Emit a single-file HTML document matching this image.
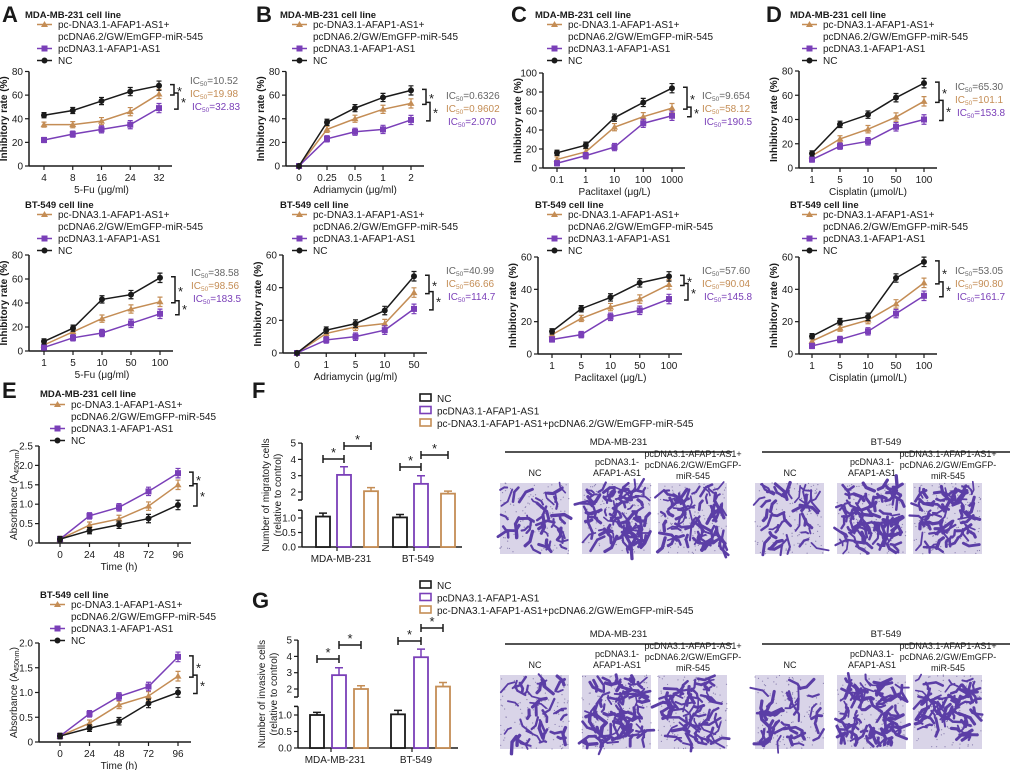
<!DOCTYPE html>
<html><head><meta charset="utf-8"><style>
body{margin:0;background:#fff}
svg{display:block;font-family:"Liberation Sans",Arial,sans-serif}
</style></head><body>
<svg id="fig" width="1020" height="770" viewBox="0 0 1020 770"></svg>
<script>
// ---------- DATA ----------
const aTopCats=["4","8","16","24","32"];
const aTopNC=[43,47,55,63,68];const aTopOr=[35,35,38,46,61];const aTopPu=[22,27,31,35,49];
const bTopCats=["0","0.25","0.5","1","2"];
const bTopNC=[0,37,49,58,64];const bTopOr=[0,31,40,48,53];const bTopPu=[0,23,29,31,39];
const cTopCats=["0.1","1","10","100","1000"];
const cTopNC=[16,24,53,69,84];const cTopOr=[9,17,43,54,63];const cTopPu=[5,13,22,47,55];
const dTopCats=["1","5","10","50","100"];
const dTopNC=[12,36,44,58,70];const dTopOr=[10,24,32,42,55];const dTopPu=[7,18,22,34,40];
const aBotCats=["1","5","10","50","100"];
const aBotNC=[8,19,43,47,61];const aBotOr=[5,16,27,35,41];const aBotPu=[3,11,15,23,31];
const bBotCats=["0","1","5","10","50"];
const bBotNC=[0,14,18,26,47];const bBotOr=[0,12,16,18,37];const bBotPu=[0,8,10,14,27];
const cBotCats=["1","5","10","50","100"];
const cBotNC=[14,28,35,44,48];const cBotOr=[12,22,29,34,43];const cBotPu=[9,12,23,27,34];
const dBotCats=["1","5","10","50","100"];
const dBotNC=[11,20,23,47,57];const dBotOr=[8,16,21,31,44];const dBotPu=[5,9,14,25,36];
const eCats=["0","24","48","72","96"];
const eTopNC=[0.1,0.32,0.47,0.63,0.98];const eTopOr=[0.1,0.46,0.62,0.95,1.5];const eTopPu=[0.1,0.7,0.92,1.33,1.8];
const eBotNC=[0.12,0.28,0.42,0.78,1.0];const eBotOr=[0.12,0.38,0.75,0.93,1.33];const eBotPu=[0.12,0.57,0.92,1.12,1.72];
const ticks80=["0","20","40","60","80"];const ticks60=["0","20","40","60"];const ticks100=["0","20","40","60","80","100"];
const ticksE25=["0","0.5","1.0","1.5","2.0","2.5"];const ticksE20=["0","0.5","1.0","1.5","2.0"];
const fGroups=["MDA-MB-231","BT-549"];
const fNC=[1.05,1.02];const fPu=[3.05,2.5];const fOr=[2.05,1.9];
const fErrNC=[0.12,0.1];const fErrPu=[0.5,0.5];const fErrOr=[0.22,0.15];
const gNC=[1.0,1.02];const gPu=[2.85,3.95];const gOr=[2.0,2.15];
const gErrNC=[0.08,0.12];const gErrPu=[0.45,0.5];const gErrOr=[0.2,0.25];

// ---------- HELPERS ----------
const NS="http://www.w3.org/2000/svg";const svg=document.getElementById('fig');
const BLK="#1a1a1a",ORG="#c48d55",PUR="#7a3fb8",GRY="#666";
function el(tag,attrs,parent,txt){const e=document.createElementNS(NS,tag);for(const k in attrs)e.setAttribute(k,attrs[k]);if(txt!==undefined)e.textContent=txt;(parent||svg).appendChild(e);return e;}
function txt(x,y,s,o,parent,name){o=o||{};const t=el('text',Object.assign({x:x,y:y,'font-size':o.fs||10,fill:o.fill||BLK,'text-anchor':o.anchor||'start','font-weight':o.bold?'bold':'normal'},o.tr?{transform:o.tr}:{}),parent,s);

return t;}
function marker(g,type,x,y,c){let m;
 if(type==='tri')m=el('polygon',{points:`${x},${y-3.5} ${x-3.5},${y+2.5} ${x+3.5},${y+2.5}`,fill:c},g);
 else if(type==='sq')m=el('rect',{x:x-3,y:y-3,width:6,height:6,fill:c},g);
 else m=el('circle',{cx:x,cy:y,r:3,fill:c},g);
 
 }
function legend(g,x,y){
 const items=[[ORG,'tri',['pc-DNA3.1-AFAP1-AS1+','pcDNA6.2/GW/EmGFP-miR-545']],[PUR,'sq',['pcDNA3.1-AFAP1-AS1']],[BLK,'dot',['NC']]];
 let yy=y;items.forEach(it=>{const lg=el('g',{},g);
  
  
  el('line',{x1:x,y1:yy-3.5,x2:x+15,y2:yy-3.5,stroke:it[0],'stroke-width':1.5},lg);marker(lg,it[1],x+7.5,yy-3.5,it[0]);
  it[2].forEach((s,i)=>{txt(x+21,yy+i*12,s,{},lg,'legend-label');});yy+=12*it[2].length;});}

function lineChart(c){
 const g=el('g',{});
 const n=c.cats.length;const sx=i=>c.x0+i*(c.x1-c.x0)/(n-1);
 const ymax=parseFloat(c.ticks[c.ticks.length-1]);const sy=v=>c.y0-v/ymax*(c.y0-c.yTop);
 if(c.title)txt(c.tx,c.ty,c.title,{bold:true,fs:9.5},g,'panel-subtitle');
 legend(g,c.lx,c.ly);
 el('line',{x1:c.ax,y1:c.y0,x2:c.ax,y2:c.yTop,stroke:BLK,'stroke-width':1.5},g);
 el('line',{x1:c.ax,y1:c.y0,x2:c.x1+13,y2:c.y0,stroke:BLK,'stroke-width':1.5},g);
 c.ticks.forEach(t=>{const y=sy(parseFloat(t));el('line',{x1:c.ax-4,y1:y,x2:c.ax,y2:y,stroke:BLK,'stroke-width':1.2},g);txt(c.ax-6,y+3.5,t,{anchor:'end'},g,'y-tick-label');});
 c.cats.forEach((t,i)=>{const x=sx(i);el('line',{x1:x,y1:c.y0,x2:x,y2:c.y0+4,stroke:BLK,'stroke-width':1.2},g);txt(x,c.y0+15,t,{anchor:'middle'},g,'x-tick-label');});
 txt((c.x0+c.x1)/2,c.y0+27,c.xlabel,{anchor:'middle'},g,'x-axis-title');
 const cy=(c.y0+c.yTop)/2;const yl=txt(c.ax-22,cy,'',{anchor:'middle',bold:true,tr:`rotate(-90 ${c.ax-22} ${cy})`},g,'y-axis-title');
 if(c.ylabelE){yl.textContent='Absorbance (A';el('tspan',{'font-size':7,dy:2},yl,'450nm');el('tspan',{dy:-2},yl,')');yl.setAttribute('font-weight','normal');}
 else yl.textContent='Inhibitory rate (%)';
 const ser=[[c.or,ORG,'tri','series-orange'],[c.pu,PUR,'sq','series-purple'],[c.nc,BLK,'dot','series-nc']];
 const err=ymax*0.045;
 ser.forEach(s=>{const sg=el('g',{},g);
  el('polyline',{points:s[0].map((v,i)=>sx(i)+','+sy(v)).join(' '),fill:'none',stroke:s[1],'stroke-width':1.5},sg);
  s[0].forEach((v,i)=>{if(v>0){const x=sx(i),e=err*(0.6+i*0.12);el('path',{d:`M${x},${sy(v+e)}V${sy(v-e)}M${x-2.5},${sy(v+e)}h5M${x-2.5},${sy(v-e)}h5`,stroke:s[1],'stroke-width':1.2,fill:'none'},sg);}marker(sg,s[2],sx(i),sy(v),s[1]);});});
 const last=[c.nc[n-1],c.or[n-1],c.pu[n-1]].sort((a,b)=>b-a);
 [[0,1,15],[1,2,19]].forEach(b=>{const ya=sy(last[b[0]])-1,yb=sy(last[b[1]])+1,x=c.x1+b[2];
  const bk=el('path',{d:`M${x-4},${ya}H${x}V${yb}H${x-4}`,stroke:BLK,'stroke-width':1.5,fill:'none'},g);
  
  txt(x+3,(ya+yb)/2+6,'*',{fs:13},g,'significance-star');});
 if(c.ic){[[c.ic[0],GRY],[c.ic[1],ORG],[c.ic[2],PUR]].forEach((s,i)=>{const t=txt(c.icx+(i==2?2:0),c.icy+i*13,'IC',{fill:s[1],fs:10},g,'ic50-label');
  el('tspan',{'font-size':6.5,dy:2},t,'50');el('tspan',{dy:-2},t,'='+s[0]);});}
}
function letter(x,y,s){txt(x,y,s,{fs:22,bold:true},svg,'panel-letter');}

// ---------- LINE CHARTS ----------
lineChart({name:'chart-a-mda',cats:aTopCats,nc:aTopNC,or:aTopOr,pu:aTopPu,ticks:ticks80,ax:29,x0:44,x1:159,y0:166,yTop:71.5,xlabel:'5-Fu (μg/ml)',title:'MDA-MB-231 cell line',tx:25,ty:18,lx:37,ly:28,ic:['10.52','19.98','32.83'],icx:190,icy:84});
lineChart({name:'chart-b-mda',cats:bTopCats,nc:bTopNC,or:bTopOr,pu:bTopPu,ticks:ticks80,ax:286,x0:299,x1:411,y0:166,yTop:71.5,xlabel:'Adriamycin (μg/ml)',title:'MDA-MB-231 cell line',tx:280,ty:18,lx:292,ly:28,ic:['0.6326','0.9602','2.070'],icx:446,icy:99});
lineChart({name:'chart-c-mda',cats:cTopCats,nc:cTopNC,or:cTopOr,pu:cTopPu,ticks:ticks100,ax:543,x0:557,x1:672,y0:168,yTop:73,xlabel:'Paclitaxel (μg/L)',title:'MDA-MB-231 cell line',tx:535,ty:18,lx:547,ly:28,ic:['9.654','58.12','190.5'],icx:702,icy:99});
lineChart({name:'chart-d-mda',cats:dTopCats,nc:dTopNC,or:dTopOr,pu:dTopPu,ticks:ticks80,ax:799,x0:812,x1:924,y0:168,yTop:71,xlabel:'Cisplatin (μmol/L)',title:'MDA-MB-231 cell line',tx:790,ty:18,lx:802,ly:28,ic:['65.30','101.1','153.8'],icx:955,icy:90});
lineChart({name:'chart-a-bt',cats:aBotCats,nc:aBotNC,or:aBotOr,pu:aBotPu,ticks:ticks80,ax:29,x0:44,x1:160,y0:351,yTop:255,xlabel:'5-Fu (μg/ml)',title:'BT-549 cell line',tx:25,ty:208,lx:37,ly:218,ic:['38.58','98.56','183.5'],icx:191,icy:276});
lineChart({name:'chart-b-bt',cats:bBotCats,nc:bBotNC,or:bBotOr,pu:bBotPu,ticks:ticks60,ax:283,x0:297,x1:414,y0:353,yTop:255,xlabel:'Adriamycin (μg/ml)',title:'BT-549 cell line',tx:280,ty:208,lx:292,ly:218,ic:['40.99','66.66','114.7'],icx:446,icy:274});
lineChart({name:'chart-c-bt',cats:cBotCats,nc:cBotNC,or:cBotOr,pu:cBotPu,ticks:ticks60,ax:538,x0:552,x1:669,y0:354,yTop:257,xlabel:'Paclitaxel (μg/L)',title:'BT-549 cell line',tx:535,ty:208,lx:547,ly:218,ic:['57.60','90.04','145.8'],icx:702,icy:274});
lineChart({name:'chart-d-bt',cats:dBotCats,nc:dBotNC,or:dBotOr,pu:dBotPu,ticks:ticks60,ax:799,x0:812,x1:924,y0:354,yTop:257,xlabel:'Cisplatin (μmol/L)',title:'BT-549 cell line',tx:790,ty:208,lx:802,ly:218,ic:['53.05','90.80','161.7'],icx:955,icy:274});
lineChart({name:'chart-e-mda',cats:eCats,nc:eTopNC,or:eTopOr,pu:eTopPu,ticks:ticksE25,ax:39,x0:60,x1:178,y0:543,yTop:446,xlabel:'Time  (h)',title:'MDA-MB-231 cell line',tx:40,ty:397,lx:50,ly:408,ylabelE:true});
lineChart({name:'chart-e-bt',cats:eCats,nc:eBotNC,or:eBotOr,pu:eBotPu,ticks:ticksE20,ax:39,x0:60,x1:178,y0:742,yTop:643,xlabel:'Time  (h)',title:'BT-549 cell line',tx:40,ty:598,lx:50,ly:608,ylabelE:true});
letter(2,22,'A');letter(256,22,'B');letter(511,22,'C');letter(766,22,'D');letter(2,398,'E');letter(252,398,'F');letter(252,608,'G');

// ---------- BAR CHARTS ----------
function barChart(c){
 const g=el('g',{});
 const sy=v=>v<=1.2?c.y0-v*c.kLow:c.y2-(v-2)*c.kHigh;
 [[BLK,'NC'],[PUR,'pcDNA3.1-AFAP1-AS1'],[ORG,'pc-DNA3.1-AFAP1-AS1+pcDNA6.2/GW/EmGFP-miR-545']].forEach((l,i)=>{const lg=el('g',{},g);
  
  el('rect',{x:c.lx,y:c.ly+i*12.5-8,width:11,height:7,fill:'#fff',stroke:l[0],'stroke-width':1.6},lg);txt(c.lx+17,c.ly+i*12.5,l[1],{},lg,'legend-label');});
 const ax=c.ax;
 el('line',{x1:ax,y1:c.y0,x2:ax,y2:sy(1.2)-2,stroke:BLK,'stroke-width':1.5},g);
 el('line',{x1:ax,y1:c.y2+8,x2:ax,y2:sy(5),stroke:BLK,'stroke-width':1.5},g);
 el('line',{x1:ax-4,y1:sy(1.2)-2,x2:ax,y2:sy(1.2)-2,stroke:BLK,'stroke-width':1.5},g);
 el('line',{x1:ax-4,y1:c.y2+8,x2:ax,y2:c.y2+8,stroke:BLK,'stroke-width':1.5},g);
 el('line',{x1:ax,y1:c.y0,x2:ax+160,y2:c.y0,stroke:BLK,'stroke-width':1.5},g);
 [["0.0",0],["0.5",0.5],["1.0",1],["2",2],["3",3],["4",4],["5",5]].forEach(t=>{const y=sy(t[1]);el('line',{x1:ax-4,y1:y,x2:ax,y2:y,stroke:BLK,'stroke-width':1.2},g);txt(ax-6,y+3.5,t[0],{anchor:'end'},g,'y-tick-label');});
 const cy=(c.y0+sy(5))/2;
 txt(ax-33,cy,c.ylabel,{anchor:'middle',tr:`rotate(-90 ${ax-33} ${cy})`},g,'y-axis-title');
 txt(ax-21,cy,'(relative to control)',{anchor:'middle',tr:`rotate(-90 ${ax-21} ${cy})`},g,'y-axis-title');
 fGroups.forEach((gr,gi)=>{const bx=c.bx[gi];
  const sers=[[c.nc,c.enc,BLK,'bar-nc'],[c.pu,c.epu,PUR,'bar-afap1'],[c.or,c.eor,ORG,'bar-combo']];
  const cx=[];
  sers.forEach((s,si)=>{const x=bx[si],v=s[0][gi],e=s[1][gi],w=14;cx.push(x+w/2);
   const r=el('rect',{x:x,y:sy(v),width:w,height:c.y0-sy(v),fill:'#fff',stroke:s[2],'stroke-width':1.8},g);
   
   el('path',{d:`M${x+w/2},${sy(v)}V${sy(v+e)}M${x+w/2-4},${sy(v+e)}h8`,stroke:s[2],'stroke-width':1.5,fill:'none'},g);});
  el('line',{x1:bx[0]+21,y1:c.y0,x2:bx[0]+21,y2:c.y0+4,stroke:BLK,'stroke-width':1.2},g);
  txt(bx[0]+25,c.y0+15,gr,{anchor:'middle'},g,'x-tick-label');
  [[0,1,c.br[gi][0]],[1,2,c.br[gi][1]]].forEach(b=>{const y=b[2],xa=cx[b[0]],xb=cx[b[1]];
   el('path',{d:`M${xa},${y-4}v8M${xa},${y}H${xb}M${xb},${y-4}v8`,stroke:BLK,'stroke-width':1.5,fill:'none'},g);
   txt((xa+xb)/2,y-2,'*',{anchor:'middle',fs:13},g,'significance-star');});
 });
}
barChart({name:'chart-f-migration',nc:fNC,pu:fPu,or:fOr,enc:fErrNC,epu:fErrPu,eor:fErrOr,ax:302,y0:547,kLow:29,y2:492,kHigh:16.3,lx:420,ly:402,bx:[[316,337,364],[393,414,441]],br:[[459,446],[467,455]],ylabel:'Number of migratoty cells'});
barChart({name:'chart-g-invasion',nc:gNC,pu:gPu,or:gOr,enc:gErrNC,epu:gErrPu,eor:gErrOr,ax:298,y0:748,kLow:33,y2:689,kHigh:16.3,lx:420,ly:589,bx:[[310,332,354],[391,414,436]],br:[[659,645],[641,628]],ylabel:'Number of invasive cells'});

// ---------- MICROGRAPHS ----------
let seed=7;function rnd(){seed=(seed*16807)%2147483647;return seed/2147483647;}
function micro(x,y,w,h,dens,name){const g=el('g',{},svg);
 el('rect',{x:x,y:y,width:w,height:h,fill:'#d9d4e8'},g);
 for(let i=0;i<110;i++)el('circle',{cx:x+rnd()*w,cy:y+rnd()*h,r:0.6,fill:'#8b80b0'},g);
 for(let i=0;i<dens;i++){const px=x+4+rnd()*(w-8),py=y+4+rnd()*(h-8),a=rnd()*6.28,l=4+rnd()*9;
  el('path',{d:`M${px},${py}l${Math.cos(a)*l},${Math.sin(a)*l}M${px},${py}l${-Math.cos(a+0.6)*l*0.6},${-Math.sin(a+0.6)*l*0.6}`,stroke:'#5b3ea6','stroke-width':1.6+rnd()*1.8,'stroke-linecap':'round'},g);}}
function microBlock(oy,ih,tag){
 [["MDA-MB-231",505,732],["BT-549",762,1010]].forEach(h=>{el('line',{x1:h[1],y1:oy+452,x2:h[2],y2:oy+452,stroke:BLK,'stroke-width':1.5});txt((h[1]+h[2])/2,oy+445,h[0],{anchor:'middle',fs:9.5},svg,'cell-line-header');});
 const xs=[500,582,658,755,837,913];
 xs.forEach((x,i)=>{const k=i%3,cx=x+35;
  if(k==0)txt(cx,oy+476,'NC',{anchor:'middle',fs:9},svg,'column-label');
  else if(k==1){txt(cx,oy+465,'pcDNA3.1-',{anchor:'middle',fs:9},svg,'column-label');txt(cx,oy+476,'AFAP1-AS1',{anchor:'middle',fs:9},svg,'column-label');}
  else{txt(cx,oy+457,'pcDNA3.1-AFAP1-AS1+',{anchor:'middle',fs:9},svg,'column-label');txt(cx,oy+468,'pcDNA6.2/GW/EmGFP-',{anchor:'middle',fs:9},svg,'column-label');txt(cx,oy+479,'miR-545',{anchor:'middle',fs:9},svg,'column-label');}
  micro(x,oy+483,69,ih,[40,85,70][k],tag+'-image-'+(i+1));});
}
microBlock(0,71,'migration');microBlock(192,74,'invasion');
</script>
</body></html>
